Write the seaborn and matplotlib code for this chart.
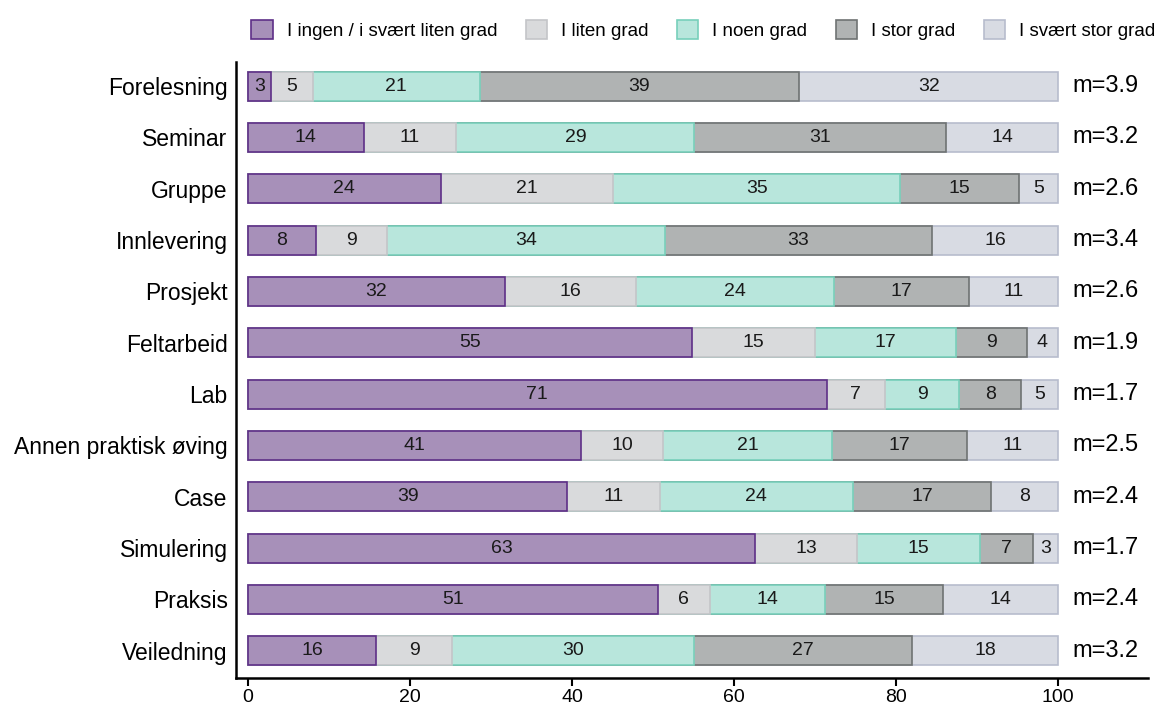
import matplotlib
matplotlib.use("Agg")
import matplotlib.pyplot as plt
from matplotlib.patches import Patch
import seaborn as sns
import pandas as pd
import numpy as np

categories = ["Forelesning", "Seminar", "Gruppe", "Innlevering", "Prosjekt", "Feltarbeid",
              "Lab", "Annen praktisk øving", "Case", "Simulering", "Praksis", "Veiledning"]
levels = ["I ingen / i svært liten grad", "I liten grad", "I noen grad", "I stor grad", "I svært stor grad"]

v_ingen = [2.8, 14.3, 23.8, 8.4, 31.7, 54.8, 71.4, 41.1, 39.4, 62.6, 50.6, 15.8]
v_liten = [5.2, 11.4, 21.3, 8.8, 16.2, 15.2, 7.2, 10.1, 11.4, 12.6, 6.4, 9.4]
v_noen = [20.6, 29.4, 35.4, 34.3, 24.4, 17.4, 9.2, 20.9, 23.9, 15.1, 14.2, 29.8]
v_stor = [39.4, 31.1, 14.6, 32.9, 16.7, 8.7, 7.6, 16.7, 17.0, 6.6, 14.6, 26.9]
v_svaert = [32.0, 13.8, 4.9, 15.6, 11.0, 3.9, 4.6, 11.2, 8.3, 3.1, 14.2, 18.1]
means = ["m=3.9", "m=3.2", "m=2.6", "m=3.4", "m=2.6", "m=1.9",
         "m=1.7", "m=2.5", "m=2.4", "m=1.7", "m=2.4", "m=3.2"]

fills = ["#a790b9", "#d9dadc", "#b8e6dc", "#b0b3b3", "#d8dbe3"]
edges = ["#5e2f87", "#c4c5c8", "#78d0bb", "#6f7373", "#b7bccd"]

plt.rcParams["font.family"] = ["Liberation Sans", "DejaVu Sans"]

vals = np.array([v_ingen, v_liten, v_noen, v_stor, v_svaert])
cum = vals.cumsum(axis=0)

fig = plt.figure(figsize=(11.62, 7.06), dpi=100)
ax = fig.add_axes([0.2031, 0.0397, 0.785, 0.8725])

# stacked bars: draw cumulative totals from the longest to the shortest
for i in reversed(range(len(levels))):
    df = pd.DataFrame({"category": categories, "value": cum[i]})
    sns.barplot(data=df, x="value", y="category", orient="h", color=fills[i],
                edgecolor=edges[i], linewidth=1.2, width=0.565, saturation=1,
                ax=ax, order=categories)

for j in range(len(categories)):
    for i in range(len(levels)):
        mid = cum[i, j] - vals[i, j] / 2
        ax.text(mid, j, f"{vals[i, j]:.0f}", ha="center", va="center", fontsize=14, color="#1a1a1a")
    ax.text(101.8, j, means[j], ha="left", va="center", fontsize=17)

ax.set_xlim(-1.48, 111.1)
ax.set_ylim(11.53, -0.47)
ax.set_xticks([0, 20, 40, 60, 80, 100])
ax.tick_params(axis="x", labelsize=14, length=5.5, width=1.5, pad=2.5)
ax.tick_params(axis="y", labelsize=16.5, length=0, pad=6)
ax.set_xlabel("")
ax.set_ylabel("")
for s in ["top", "right"]:
    ax.spines[s].set_visible(False)
for s in ["left", "bottom"]:
    ax.spines[s].set_linewidth(1.8)

handles = [Patch(facecolor=f, edgecolor=e, linewidth=1.2) for f, e in zip(fills, edges)]
fig.legend(handles, levels, loc="upper left", bbox_to_anchor=(0.205, 0.99), ncol=5,
           frameon=False, fontsize=13.5, handlelength=1.15, handleheight=1.15,
           columnspacing=1.5, handletextpad=0.75, borderaxespad=0.3)

fig.savefig("out.png", dpi=100)
